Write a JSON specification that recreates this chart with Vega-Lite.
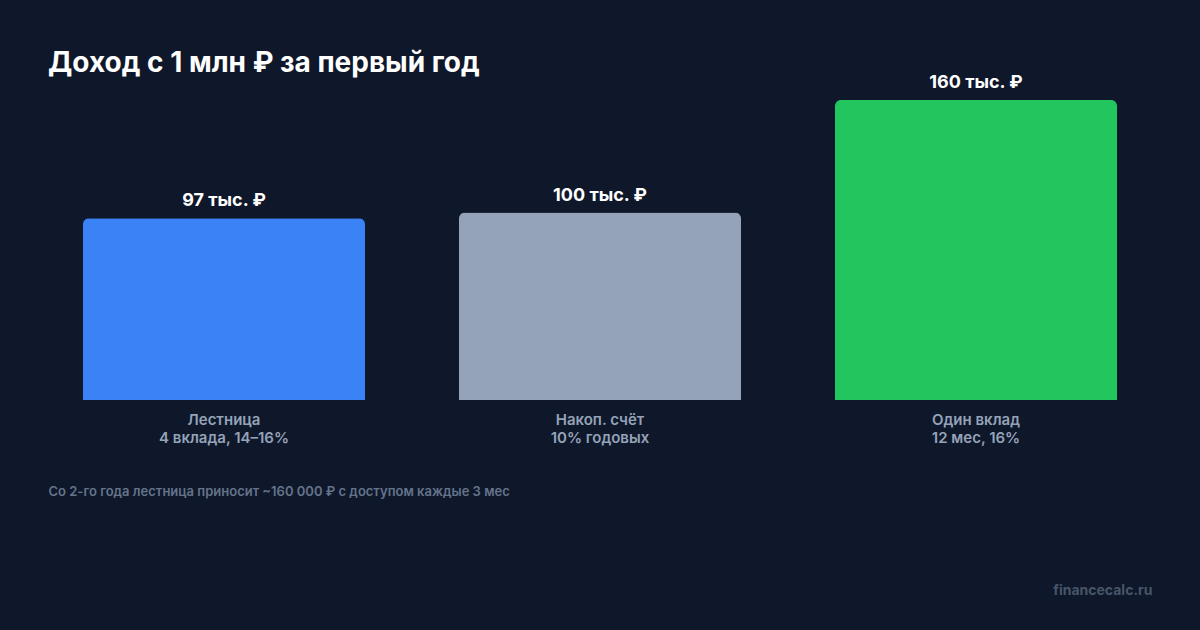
{
  "$schema": "https://vega.github.io/schema/vega-lite/v6.json",
  "autosize": "none",
  "width": 1128,
  "height": 300,
  "padding": {"left": 36, "top": 100, "right": 36, "bottom": 230},
  "background": "#0f172a",
  "title": {
    "text": "Доход с 1 млн ₽ за первый год",
    "anchor": "start",
    "frame": "group",
    "dx": 12,
    "offset": -26,
    "baseline": "alphabetic",
    "font": "Inter",
    "fontSize": 28,
    "fontWeight": "bold",
    "color": "#ffffff"
  },
  "data": {
    "values": [
      {"option": "Лестница|4 вклада, 14–16%", "income": 97, "label": "97 тыс. ₽"},
      {"option": "Накоп. счёт|10% годовых", "income": 100, "label": "100 тыс. ₽"},
      {"option": "Один вклад|12 мес, 16%", "income": 160, "label": "160 тыс. ₽"}
    ]
  },
  "encoding": {
    "x": {
      "field": "option",
      "type": "nominal",
      "sort": null,
      "scale": {"paddingInner": 0.25, "paddingOuter": 0.125},
      "axis": {
        "title": "Со 2-го года лестница приносит ~160 000 ₽ с доступом каждые 3 мес",
        "titleX": 12,
        "titleY": 91,
        "titleAlign": "left",
        "titleAnchor": "start",
        "titleBaseline": "middle",
        "titleFont": "Inter",
        "titleFontSize": 13,
        "titleFontWeight": 600,
        "titleColor": "#64748b",
        "labelExpr": "split(datum.label, '|')",
        "labelAngle": 0,
        "labelFont": "Inter",
        "labelFontSize": 15,
        "labelFontWeight": 600,
        "labelColor": "#94a3b8",
        "labelLineHeight": 18,
        "labelPadding": 12,
        "domain": false,
        "ticks": false
      }
    },
    "y": {
      "field": "income",
      "type": "quantitative",
      "scale": {"domain": [0, 160], "nice": false},
      "axis": {
        "orient": "right",
        "title": "financecalc.ru",
        "titleAngle": 0,
        "titleX": -12,
        "titleY": 490,
        "titleAlign": "right",
        "titleBaseline": "middle",
        "titleFont": "Inter",
        "titleFontSize": 14,
        "titleFontWeight": "bold",
        "titleColor": "#475569",
        "labels": false,
        "ticks": false,
        "domain": false,
        "grid": false
      }
    }
  },
  "layer": [
    {
      "mark": {"type": "bar", "cornerRadiusTopLeft": 6, "cornerRadiusTopRight": 6},
      "encoding": {
        "color": {
          "field": "option",
          "type": "nominal",
          "scale": {
            "domain": ["Лестница|4 вклада, 14–16%", "Накоп. счёт|10% годовых", "Один вклад|12 мес, 16%"],
            "range": ["#3b82f6", "#94a3b8", "#22c55e"]
          },
          "legend": null
        }
      }
    },
    {
      "mark": {
        "type": "text",
        "dy": -12,
        "baseline": "alphabetic",
        "font": "Inter",
        "fontSize": 18,
        "fontWeight": "bold",
        "color": "#ffffff"
      },
      "encoding": {"text": {"field": "label"}}
    }
  ],
  "config": {"view": {"stroke": null}}
}
